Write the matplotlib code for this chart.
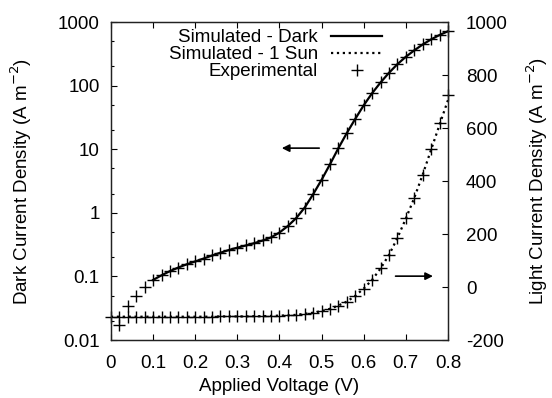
import matplotlib
matplotlib.use('Agg')
import matplotlib.pyplot as plt
from matplotlib.ticker import LogLocator, FixedLocator, FuncFormatter, NullFormatter

plt.rcParams['font.family'] = ['Liberation Sans', 'DejaVu Sans']
plt.rcParams['axes.unicode_minus'] = False

# applied voltage (V)
volts = [0.00, 0.02, 0.04, 0.06, 0.08, 0.10, 0.12, 0.14, 0.16, 0.18,
         0.20, 0.22, 0.24, 0.26, 0.28, 0.30, 0.32, 0.34, 0.36, 0.38,
         0.40, 0.42, 0.44, 0.46, 0.48, 0.50, 0.52, 0.54, 0.56, 0.58,
         0.60, 0.62, 0.64, 0.66, 0.68, 0.70, 0.72, 0.74, 0.76, 0.78, 0.80]

# experimental dark current (A m^-2), from 0.02 V on
dark_exp_v = volts[1:]
dark_exp = [0.017, 0.034, 0.050, 0.067, 0.087, 0.104, 0.122, 0.138, 0.155,
            0.172, 0.190, 0.215, 0.237, 0.262, 0.284, 0.307, 0.335, 0.367, 0.41,
            0.49, 0.62, 0.82, 1.20, 1.95, 3.3, 5.8, 10.5, 18.0, 30.0,
            49.0, 77.0, 113.0, 160.0, 218.0, 285.0, 360.0, 445.0, 535.0, 630.0, 730.0]

# simulated dark current, from 0.1 V on
dark_sim_v = volts[5:]
dark_sim = [0.088, 0.104, 0.121, 0.138, 0.155, 0.172, 0.191, 0.213, 0.236, 0.26,
            0.283, 0.306, 0.333, 0.366, 0.41, 0.49, 0.62, 0.83, 1.21, 1.96,
            3.3, 5.8, 10.4, 18.0, 30.0, 49.0, 76.0, 112.0, 159.0, 217.0,
            284.0, 358.0, 443.0, 533.0, 625.0, 715.0]

# light current (A m^-2)
light_exp = [-112, -112, -112, -112, -112, -112, -112, -112, -112, -112,
             -112, -112, -112, -111, -111, -111, -111, -110, -110, -109,
             -108, -107, -105, -101, -97, -91, -82, -70, -55, -33,
             -6, 26, 70, 121, 184, 260, 335, 424, 520, 618, 725]
light_sim = [-112, -112, -112, -112, -112, -112, -112, -112, -112, -112,
             -112, -112, -112, -111, -111, -111, -111, -110, -110, -109,
             -108, -107, -105, -101, -97, -91, -82, -70, -55, -33,
             -6, 27, 70, 121, 185, 258, 336, 424, 518, 612, 705]

fs = 13.5

fig = plt.figure(figsize=(5.52, 3.98), dpi=100)
ax = fig.add_axes([0.201, 0.1457, 0.6105, 0.799])
ax2 = ax.twinx()

l1, = ax.plot(dark_sim_v, dark_sim, '-', color='black', lw=1.6)
ax.plot(dark_exp_v, dark_exp, '+', color='black', ms=8, mew=1.0, clip_on=False)
l2, = ax2.plot(volts, light_sim, ':', color='black', lw=1.6)
m1, = ax2.plot(volts, light_exp, '+', color='black', ms=8, mew=1.0, clip_on=False)

ax.set_yscale('log')
ax.set_xlim(0, 0.8)
ax.set_ylim(0.01, 1000)
ax2.set_ylim(-200, 1000)

ax.set_xticks([0, 0.1, 0.2, 0.3, 0.4, 0.5, 0.6, 0.7, 0.8])
ax.xaxis.set_major_formatter(FuncFormatter(lambda v, p: '%g' % v))
ax.yaxis.set_major_locator(FixedLocator([0.01, 0.1, 1, 10, 100, 1000]))
ax.yaxis.set_major_formatter(FuncFormatter(lambda v, p: '%g' % v))
ax.yaxis.set_minor_locator(LogLocator(base=10, subs=(2, 5)))
ax.yaxis.set_minor_formatter(NullFormatter())
ax2.set_yticks([-200, 0, 200, 400, 600, 800, 1000])

ax.tick_params(axis='x', which='both', direction='in', top=True, length=4.5,
               width=0.8, labelsize=fs, pad=11)
ax.tick_params(axis='y', which='major', direction='in', right=False, length=4.5,
               width=0.8, labelsize=fs, pad=8)
ax.tick_params(axis='y', which='minor', direction='in', right=False, length=2.5, width=0.8)
ax2.tick_params(axis='y', direction='in', length=4.5, width=0.8, labelsize=fs, pad=13)

for a in (ax, ax2):
    for s in a.spines.values():
        s.set_linewidth(0.9)
        s.set_color('#222222')

ax.set_xlabel('Applied Voltage (V)', fontsize=fs, labelpad=4)
ax.set_ylabel('Dark Current Density (A m$^{-2}$)', fontsize=fs, labelpad=17)
ax2.set_ylabel('Light Current Density (A m$^{-2}$)', fontsize=fs, labelpad=12)

ax2.legend([l1, l2, m1], ['Simulated - Dark', 'Simulated - 1 Sun', 'Experimental'],
           loc='upper right', bbox_to_anchor=(0.804, 0.978), frameon=False,
           markerfirst=False, fontsize=fs, labelspacing=0.0, handlelength=2.7,
           handletextpad=0.7, borderpad=0, borderaxespad=0)

# arrows showing which axis each curve belongs to
ax.annotate('', xy=(0.399, 10.4), xytext=(0.501, 10.4),
            arrowprops=dict(arrowstyle='-|>', color='black', lw=1.2, mutation_scale=11))
ax2.annotate('', xy=(0.771, 41), xytext=(0.669, 41),
             arrowprops=dict(arrowstyle='-|>', color='black', lw=1.2, mutation_scale=11))

fig.savefig('out.png', dpi=100)
